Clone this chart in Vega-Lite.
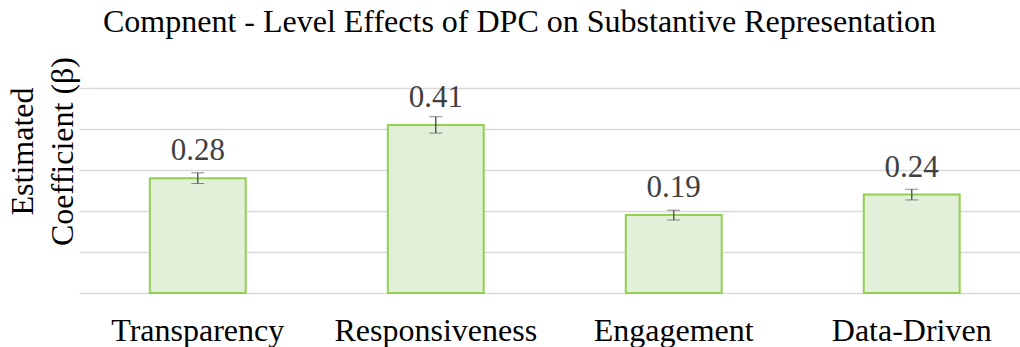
{
  "$schema": "https://vega.github.io/schema/vega-lite/v6.json",
  "width": 941,
  "height": 205,
  "autosize": {"type": "none"},
  "padding": {"left": 79, "top": 88, "right": 0, "bottom": 54},
  "background": "white",
  "config": {
    "view": {"stroke": null},
    "font": "Liberation Serif"
  },
  "title": {
    "text": "Compnent - Level Effects of DPC on Substantive Representation",
    "font": "Liberation Serif",
    "fontSize": 32,
    "fontWeight": "normal",
    "color": "#000000",
    "anchor": "middle",
    "frame": "group",
    "baseline": "alphabetic",
    "offset": -7,
    "dx": -30
  },
  "data": {
    "values": [
      {"component": "Transparency", "beta": 0.28, "lo": 0.267, "hi": 0.293},
      {"component": "Responsiveness", "beta": 0.41, "lo": 0.39, "hi": 0.43},
      {"component": "Engagement", "beta": 0.19, "lo": 0.178, "hi": 0.202},
      {"component": "Data-Driven", "beta": 0.24, "lo": 0.227, "hi": 0.253}
    ]
  },
  "encoding": {
    "x": {
      "field": "component",
      "type": "nominal",
      "sort": null,
      "scale": {"paddingInner": 0.597, "paddingOuter": 0.2755, "align": 0.54},
      "axis": {
        "title": null,
        "labelAngle": 0,
        "labelFont": "Liberation Serif",
        "labelFontSize": 32,
        "labelColor": "#000000",
        "labelPadding": 22,
        "labelLimit": 0,
        "ticks": false,
        "domain": false,
        "grid": false
      }
    }
  },
  "layer": [
    {
      "mark": {"type": "bar", "fill": "#E2EFD9", "stroke": "#92D050", "strokeWidth": 2},
      "encoding": {
        "y": {
          "field": "beta",
          "type": "quantitative",
          "title": ["Estimated", "Coefficient (β)"],
          "scale": {"domain": [0, 0.5], "nice": false},
          "axis": {
            "titleFont": "Liberation Serif",
            "titleFontSize": 32,
            "titleFontWeight": "normal",
            "titleColor": "#000000",
            "titleY": 63,
            "titleX": -40,
            "titleLineHeight": 40,
            "values": [0, 0.1, 0.2, 0.3, 0.4, 0.5],
            "labels": false,
            "ticks": false,
            "domain": false,
            "grid": true,
            "gridColor": "#D9D9D9",
            "gridWidth": 1.5
          }
        }
      }
    },
    {
      "mark": {"type": "errorbar", "ticks": {"size": 13, "color": "#595959", "strokeWidth": 1.5}, "rule": {"color": "#595959", "strokeWidth": 1.5}},
      "encoding": {
        "y": {"field": "lo", "type": "quantitative", "title": ["Estimated", "Coefficient (β)"]},
        "y2": {"field": "hi"}
      }
    },
    {
      "mark": {"type": "text", "font": "Liberation Serif", "fontSize": 31, "color": "#404040", "baseline": "alphabetic", "dy": -18},
      "encoding": {
        "y": {"field": "beta", "type": "quantitative", "title": ["Estimated", "Coefficient (β)"]},
        "text": {"field": "beta", "type": "quantitative", "format": ".2f"}
      }
    }
  ]
}
